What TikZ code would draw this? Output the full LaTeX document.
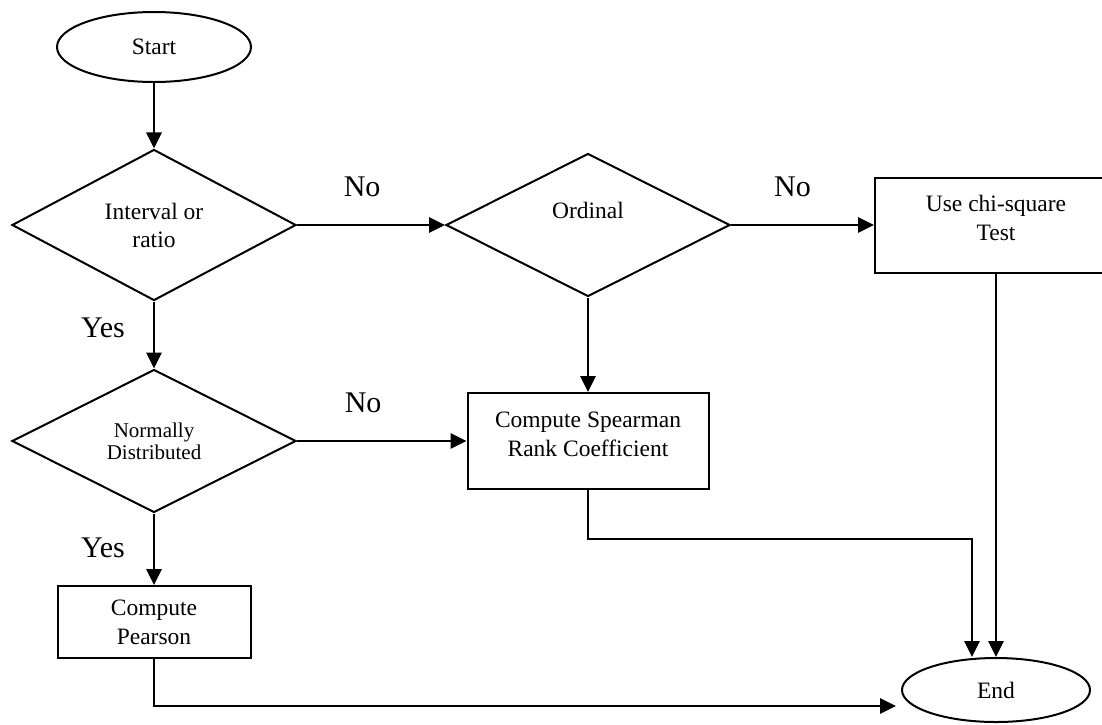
\documentclass[tikz,border=0pt]{standalone}
\usepackage{fontspec}
\setmainfont{Liberation Serif}
\usetikzlibrary{arrows.meta,shapes.geometric}
\tikzset{
  flow arrow/.style={-{Triangle[length=8pt,width=7.5pt]},line width=1.35pt},
  terminal node/.style={ellipse,draw,line width=1pt,inner sep=2pt,
    font=\fontsize{11.75}{14}\selectfont},
  decision node/.style={diamond,draw,line width=1pt,inner sep=1pt,
    minimum width=142pt,minimum height=71.5pt,align=center,
    font=\fontsize{11.75}{14}\selectfont},
  process node/.style={rectangle,draw,line width=1pt,align=center,
    font=\fontsize{11.75}{14.5}\selectfont},
  branch label/.style={font=\fontsize{15}{18}\selectfont}
}
\begin{document}
\begin{tikzpicture}[x=0.5pt,y=-0.5pt]
  \clip (0,0) rectangle (1102,724);
  % shapes
  \node[terminal node,minimum width=97pt,minimum height=35pt] (start) at (154,47) {Start};
  \node[decision node] (interval) at (154,225) {Interval or\\ratio};
  \node[decision node,text height=8pt,text depth=15pt] (ordinal) at (588,225) {Ordinal};
  \node[process node,minimum width=121pt,minimum height=47.5pt,
    text depth=7pt] (chisq) at (996,225) {Use chi-square\\Test};
  \node[decision node,font=\fontsize{10.5}{11}\selectfont] (normal) at (154,441) {Normally\\Distributed};
  \node[process node,minimum width=120.5pt,minimum height=48pt,
    text depth=7pt] (spearman) at (588,441) {Compute Spearman\\Rank Coefficient};
  \node[process node,minimum width=96.5pt,minimum height=36pt] (pearson) at (154,622) {Compute\\Pearson};
  \node[terminal node,minimum width=94pt,minimum height=32pt] (finish) at (996,690) {End};
  % connectors
  \draw[flow arrow] (start) -- (interval);
  \draw[flow arrow] (interval) -- node[branch label,pos=0.44,yshift=19pt] {No} (ordinal);
  \draw[flow arrow] (ordinal) -- node[branch label,pos=0.43,yshift=19pt] {No} (chisq);
  \draw[flow arrow] (interval) -- node[branch label,pos=0.39,xshift=-25.5pt] {Yes} (normal);
  \draw[flow arrow] (ordinal) -- (spearman);
  \draw[flow arrow] (normal) -- node[branch label,pos=0.39,yshift=19pt] {No} (spearman);
  \draw[flow arrow] (normal) -- node[branch label,pos=0.48,xshift=-25.5pt] {Yes} (pearson);
  \draw[flow arrow] (chisq) -- (finish);
  \draw[flow arrow] (spearman.south) -- ++(0,49) -| ([xshift=-12pt]finish.north);
  \draw[flow arrow] (pearson.south) |- ([xshift=-2.5pt,yshift=-8pt]finish.west);
\end{tikzpicture}
\end{document}
